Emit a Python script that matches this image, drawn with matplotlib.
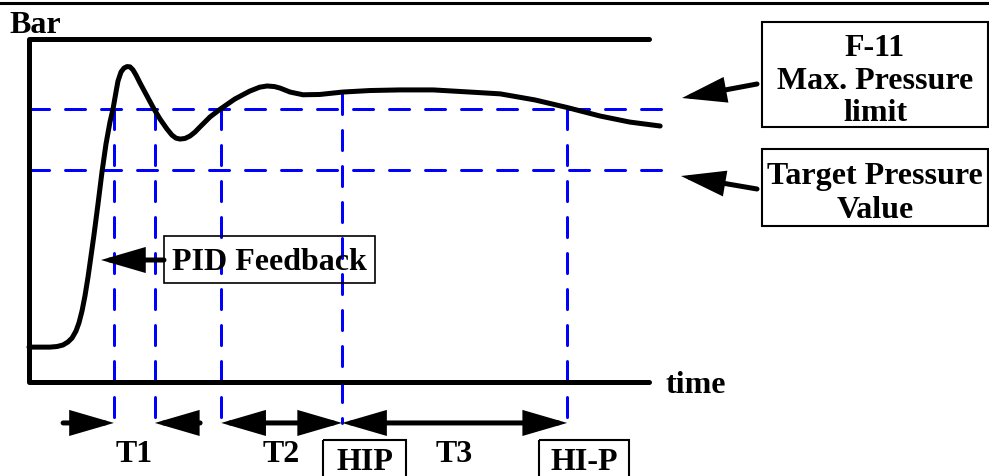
import matplotlib
matplotlib.use("Agg")
import matplotlib.pyplot as plt
import matplotlib.transforms as mtransforms
from matplotlib.patches import Rectangle, FancyArrowPatch, ArrowStyle

# Pressure response over time (time units, bar)
time_pts = [0, 3.39, 4.52, 5.48, 6.29, 6.94, 7.58, 8.06, 8.55, 9.03, 9.52, 10.0,
            10.48, 11.13, 11.77, 12.42, 13.06, 13.55, 14.03, 14.35, 14.84, 15.32,
            15.81, 16.29, 16.77, 17.26, 17.90, 19.03, 20.16, 21.13, 22.26, 23.06,
            23.71, 24.35, 25.16, 25.97, 26.77, 27.58, 29.2, 30.8, 33.2, 35.6,
            37.2, 38.4, 39.6, 40.5, 42.1, 44.2, 46.9, 50.6, 55.0, 59.8, 65.2,
            71.1, 76.0, 81.6, 86.8, 92.1, 96.9, 101.8]
pressure_pts = [1.15, 1.15, 1.17, 1.22, 1.32, 1.45, 1.68, 1.95, 2.34, 2.84, 3.46,
                4.15, 4.85, 5.87, 6.92, 7.85, 8.57, 9.0, 9.56, 9.92, 10.22, 10.35,
                10.40, 10.39, 10.29, 10.12, 9.86, 9.43, 9.0, 8.67, 8.34, 8.14,
                8.04, 8.01, 8.03, 8.11, 8.24, 8.41, 8.74, 8.99, 9.33, 9.59, 9.72,
                9.76, 9.74, 9.69, 9.56, 9.47, 9.48, 9.56, 9.61, 9.63, 9.63, 9.56,
                9.50, 9.30, 9.05, 8.77, 8.57, 8.44]

max_limit = 9.0        # F-11 max pressure limit (bar)
target_value = 7.0     # target pressure value (bar)
frame_top = 11.3       # upper edge of the pressure frame (bar)
frame_end = 100.0      # end of the time axis
level_end = 102.9      # end of the dashed level lines

# Time marks
t1_start, t1_end = 13.7, 20.3
t2_start = 31.0
hip_time = 50.5
hip_end = 86.8
hip_level = 9.5

period_labels = ["T1", "T2", "T3"]

# --- layout -------------------------------------------------------------
W, H = 989, 477
fig = plt.figure(figsize=(W / 100, H / 100), dpi=100)
ax = fig.add_axes([0, 0, 1, 1])
ax.set_xlim(-29 / 6.2, (W - 29) / 6.2)
ax.set_ylim((383 - H) / 30.33, 383 / 30.33)
ax.axis("off")

# pixel-based transform for the surrounding annotation boxes
lay = mtransforms.Affine2D().scale(1 / W, -1 / H).translate(0, 1) + fig.transFigure

font = dict(family="Liberation Serif", weight="bold", color="black")
FS = 23
BLUE = "#0000FF"
dash_kw = dict(color=BLUE, lw=2.16, dashes=(6.7, 5.3), dash_capstyle="round")

# top rule
ax.plot([0, W], [4, 4], color="black", lw=2.2, transform=lay, clip_on=False)

# frame: top limit, pressure axis and time axis
ax.plot([frame_end, 0, 0, frame_end], [frame_top, frame_top, 0, 0],
        color="black", lw=3.6, solid_capstyle="round", solid_joinstyle="round",
        zorder=3)

# dashed pressure levels
for lvl in (max_limit, target_value):
    ax.plot([0, level_end], [lvl, lvl], zorder=2, **dash_kw)

# dashed time marks
arrow_row = -1.35
mark_bottom = -1.48
for t in (t1_start, t1_end, t2_start, hip_end):
    ax.plot([t, t], [max_limit, mark_bottom], zorder=2, **dash_kw)
ax.plot([hip_time, hip_time], [hip_level, arrow_row], zorder=2, **dash_kw)

# pressure curve
ax.plot(time_pts, pressure_pts, color="black", lw=3.6,
        solid_capstyle="round", solid_joinstyle="round", zorder=4)


def arrow(p0, p1, style="-|>", transform=None):
    st = ArrowStyle(style, head_length=24, head_width=7)
    a = FancyArrowPatch(p0, p1, arrowstyle=st, mutation_scale=1,
                        color="black", lw=3.6, shrinkA=0, shrinkB=0,
                        capstyle="round", joinstyle="miter",
                        transform=transform if transform is not None else ax.transData,
                        zorder=5)
    ax.add_patch(a)


# period arrows under the time axis
arrow((5.5, arrow_row), (t1_start, arrow_row))
arrow((27.6, arrow_row), (t1_end, arrow_row))
arrow((t2_start, arrow_row), (hip_time, arrow_row), "<|-|>")
arrow((hip_time, arrow_row), (hip_end, arrow_row), "<|-|>")

label_y = -2.6
mids = [(t1_start + t1_end) / 2, (t2_start + hip_time) / 2, (hip_time + hip_end) / 2]
for m, lab in zip(mids, period_labels):
    ax.text(m, label_y, lab, ha="center", va="baseline", fontsize=FS, **font)

# axis titles
ax.text(9, 33, "Bar", transform=lay, ha="left", va="baseline", fontsize=FS, **font)
ax.text(666, 393, "time", transform=lay, ha="left", va="baseline", fontsize=FS, **font)


def box(x, y, w, h, lw=1.5):
    ax.add_patch(Rectangle((x, y), w, h, transform=lay, fill=False,
                           edgecolor="black", lw=lw, clip_on=False, zorder=6))


# HIP / HI-P tags
box(323, 441, 83, 60)
ax.text(364.5, 470, "HIP", transform=lay, ha="center", va="baseline", fontsize=FS, **font)
box(539, 441, 90, 60)
ax.text(584, 470, "HI-P", transform=lay, ha="center", va="baseline", fontsize=FS, **font)

# PID feedback tag
box(164, 237, 211, 47, lw=1.2)
ax.text(269.5, 270, "PID Feedback", transform=lay, ha="center", va="baseline",
        fontsize=FS, **font)
arrow((164, 261), (101, 261), transform=lay)

# right-hand descriptions
box(762, 23, 226, 105)
for txt, yb in (("F-11", 56), ("Max. Pressure", 89), ("limit", 121)):
    ax.text(875, yb, txt, transform=lay, ha="center", va="baseline", fontsize=FS, **font)
box(762, 150, 226, 77)
for txt, yb in (("Target Pressure", 184), ("Value", 218)):
    ax.text(875, yb, txt, transform=lay, ha="center", va="baseline", fontsize=FS, **font)
arrow((757, 85), (682, 99), transform=lay)
arrow((757, 190), (681, 177), transform=lay)

fig.savefig("out.png", dpi=100)
